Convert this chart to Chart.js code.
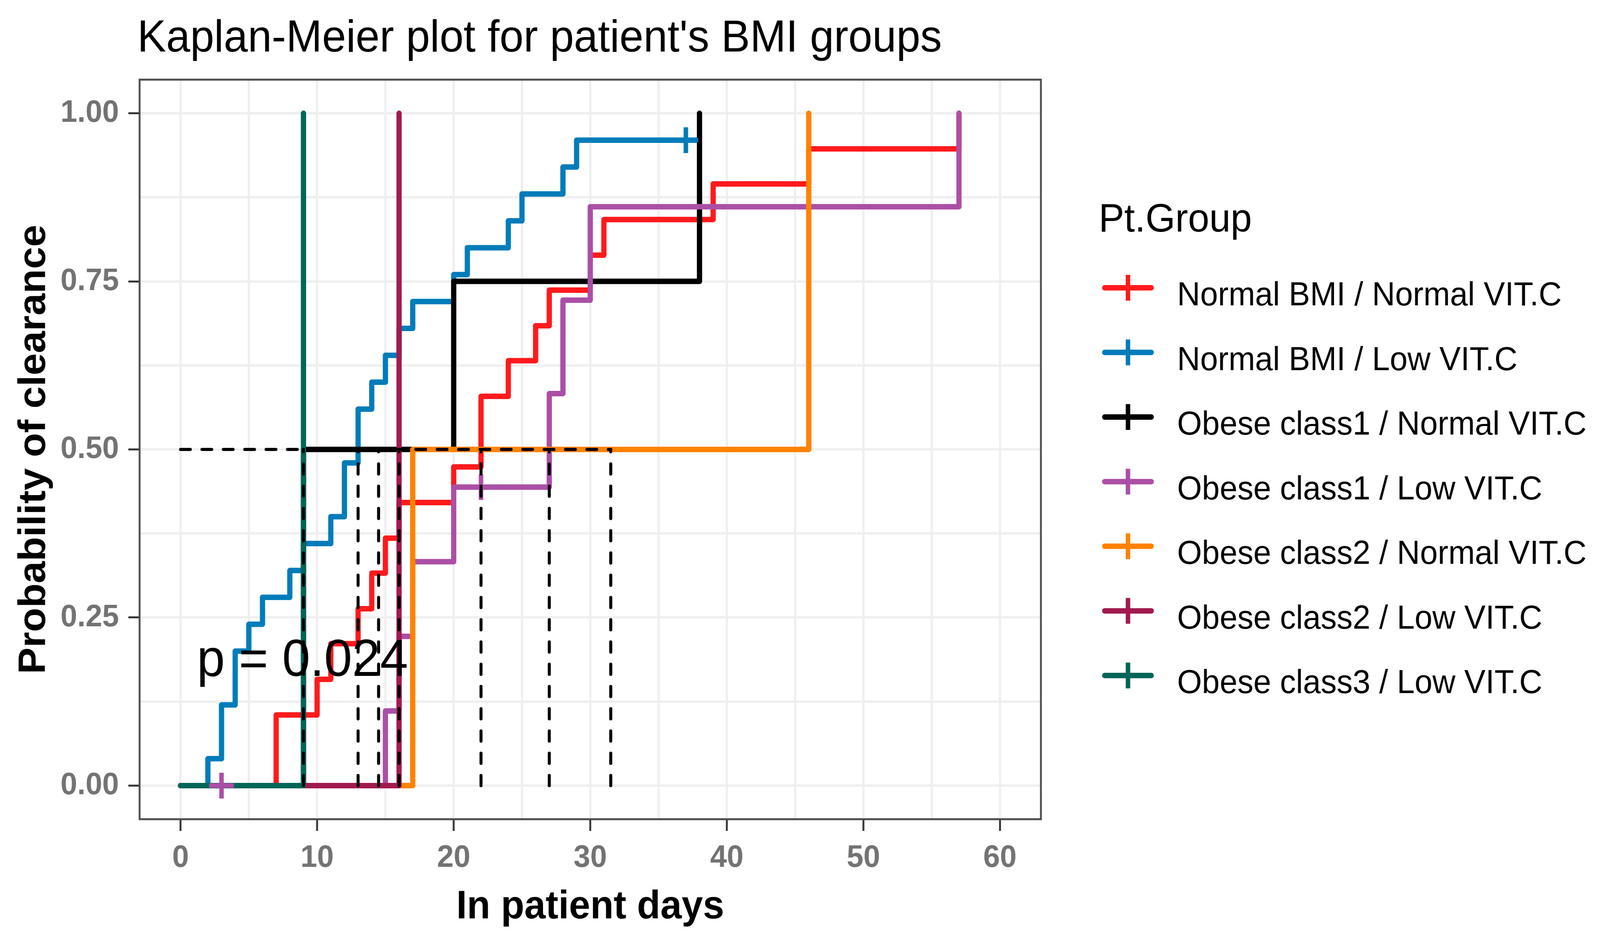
<!DOCTYPE html>
<html>
<head>
<meta charset="utf-8">
<script src="https://cdn.jsdelivr.net/npm/chart.js@4.4.1/dist/chart.umd.min.js"></script>
<style>
  html, body { margin: 0; padding: 0; background: #fff; overflow: hidden; }
  #wrap { width: 4264px; height: 2392px; position: absolute; left: 0; top: 0; transform-origin: 0 0; }
</style>
</head>
<body>
<div id="wrap"><canvas id="km" width="4264" height="2392"></canvas></div>
<script>
/* Kaplan-Meier plot for patient's BMI groups
   Laid out on a 4264x2392 sheet, then fitted to the window. */

const FONT = "'Liberation Sans', Arial, Helvetica, sans-serif";
const SHEET_W = 4264, SHEET_H = 2392;

// ── Groups ──────────────────────────────────────────────────────────────
const groupNames = [
  'Normal BMI / Normal VIT.C',
  'Normal BMI / Low VIT.C',
  'Obese class1 / Normal VIT.C',
  'Obese class1 / Low VIT.C',
  'Obese class2 / Normal VIT.C',
  'Obese class2 / Low VIT.C',
  'Obese class3 / Low VIT.C',
];
const groupColors = ['#ff1a1c', '#007cba', '#000000', '#ab4fa6', '#ff8200', '#a11a50', '#006658'];

// ── Step curves: day of each step and cumulative probability after it ─
const nnDays = [0, 7, 10, 11, 13, 14, 15, 16, 20, 22, 24, 26, 27, 30, 31, 39, 46, 57];
const nnProb = [0, 0.105, 0.158, 0.211, 0.263, 0.316, 0.368, 0.421, 0.474, 0.579, 0.632, 0.684, 0.737, 0.789, 0.842, 0.895, 0.947, 1.0];

const nlDays = [0, 2, 3, 4, 5, 6, 8, 9, 11, 12, 13, 14, 15, 16, 17, 20, 21, 24, 25, 28, 29, 38];
const nlProb = [0, 0.04, 0.12, 0.20, 0.24, 0.28, 0.32, 0.36, 0.40, 0.48, 0.56, 0.60, 0.64, 0.68, 0.72, 0.76, 0.80, 0.84, 0.88, 0.92, 0.96, 0.96];

const o1nDays = [0, 9, 20, 38];
const o1nProb = [0, 0.5, 0.75, 1.0];

const o1lDays = [0, 15, 16, 17, 20, 27, 28, 30, 57];
const o1lProb = [0, 0.111, 0.222, 0.333, 0.444, 0.583, 0.722, 0.861, 1.0];

const o2nDays = [0, 17, 46];
const o2nProb = [0, 0.5, 1.0];

const o2lDays = [0, 16];
const o2lProb = [0, 1.0];

const o3lDays = [0, 9];
const o3lProb = [0, 1.0];

// ── Censored observations ───────────────────────────────────────────────
const nlCensDays  = [37];
const nlCensProb  = [0.96];
const o1lCensDays = [3, 22];
const o1lCensProb = [0, 0.444];

// ── Median lines ────────────────────────────────────────────────────────
const medianDays  = [22, 13, 14.5, 27, 31.5, 16, 9];
const medianLevel = 0.5;

// ── Axes ────────────────────────────────────────────────────────────────
const xTicks      = [0, 10, 20, 30, 40, 50, 60];
const yTicks      = [0, 0.25, 0.5, 0.75, 1];
const yTickLabels = ['0.00', '0.25', '0.50', '0.75', '1.00'];

// ── Texts ───────────────────────────────────────────────────────────────
const titleText   = "Kaplan-Meier plot for patient's BMI groups";
const xTitleText  = 'In patient days';
const yTitleText  = 'Probability of clearance';
const legendTitle = 'Pt.Group';
const pText       = 'p = 0.024';
const pAt         = { x: 1.2, y: 0.163 };

// fit the sheet into whatever window we get
const wrap = document.getElementById('wrap');
wrap.style.transform =
  `scale(${window.innerWidth / SHEET_W}, ${window.innerHeight / SHEET_H})`;

const curves = [
  { days: nnDays,  prob: nnProb,  cd: [],          cp: [] },
  { days: nlDays,  prob: nlProb,  cd: nlCensDays,  cp: nlCensProb },
  { days: o1nDays, prob: o1nProb, cd: [],          cp: [] },
  { days: o1lDays, prob: o1lProb, cd: o1lCensDays, cp: o1lCensProb },
  { days: o2nDays, prob: o2nProb, cd: [],          cp: [] },
  { days: o2lDays, prob: o2lProb, cd: [],          cp: [] },
  { days: o3lDays, prob: o3lProb, cd: [],          cp: [] },
];

const datasets = [];
curves.forEach((c, i) => {
  datasets.push({
    label: groupNames[i],
    data: c.days.map((d, k) => ({ x: d, y: c.prob[k] })),
    borderColor: groupColors[i], borderWidth: 14,
    stepped: true, fill: false, pointRadius: 0,
    borderJoinStyle: 'round', borderCapStyle: 'round',
    order: 2 + curves.length - i,
  });
  if (c.cd.length) {
    datasets.push({
      label: groupNames[i] + ' censored',
      data: c.cd.map((d, k) => ({ x: d, y: c.cp[k] })),
      showLine: false, pointStyle: 'cross', pointRadius: 33, pointHoverRadius: 33,
      pointBorderWidth: 12, pointBorderColor: groupColors[i], pointBackgroundColor: groupColors[i],
      order: 1,
    });
  }
});

const dashStyle = {
  borderColor: '#000', borderWidth: 8, borderDash: [26, 31],
  borderCapStyle: 'round', pointRadius: 0, fill: false, order: 0,
};
datasets.push({ ...dashStyle, label: 'median h',
  data: [{ x: 0, y: medianLevel }, { x: Math.max(...medianDays), y: medianLevel }] });
medianDays.forEach((m, i) => datasets.push({ ...dashStyle, label: 'median ' + i,
  data: [{ x: m, y: 0 }, { x: m, y: medianLevel }] }));

// major ticks plus midpoints for minor grid lines
function withMinor(major) {
  const out = [];
  major.forEach((v, i) => {
    out.push(v);
    if (i < major.length - 1) out.push((v + major[i + 1]) / 2);
  });
  return out;
}
const xAll = withMinor(xTicks);
const yAll = withMinor(yTicks);

const decor = {
  id: 'decor',
  afterDraw(chart) {
    const { ctx, chartArea: a, scales: { x, y } } = chart;
    ctx.save();

    // panel border
    ctx.strokeStyle = '#4d4d4d'; ctx.lineWidth = 5;
    ctx.strokeRect(a.left, a.top, a.right - a.left, a.bottom - a.top);

    // p-value
    ctx.fillStyle = '#000'; ctx.textAlign = 'left'; ctx.textBaseline = 'alphabetic';
    ctx.font = `134px ${FONT}`;
    ctx.fillText(pText, x.getPixelForValue(pAt.x), y.getPixelForValue(pAt.y));

    // title
    ctx.font = `115px ${FONT}`;
    ctx.fillText(titleText, 366, 132);

    // axis titles
    ctx.font = `bold 102px ${FONT}`;
    ctx.textAlign = 'center';
    ctx.fillText(xTitleText, (a.left + a.right) / 2, 2352);
    ctx.save();
    ctx.translate(120, (a.top + a.bottom) / 2);
    ctx.rotate(-Math.PI / 2);
    ctx.fillText(yTitleText, 0, 0);
    ctx.restore();

    // legend
    ctx.textAlign = 'left';
    ctx.font = `102px ${FONT}`;
    ctx.fillText(legendTitle, 2928, 593);
    ctx.font = `85px ${FONT}`;
    groupNames.forEach((name, i) => {
      const cy = 737 + i * 165.5;
      ctx.strokeStyle = groupColors[i];
      ctx.lineWidth = 14; ctx.lineCap = 'round';
      ctx.beginPath(); ctx.moveTo(2944, cy); ctx.lineTo(3068, cy); ctx.stroke();
      ctx.lineWidth = 12; ctx.lineCap = 'butt';
      ctx.beginPath(); ctx.moveTo(3006, cy - 33); ctx.lineTo(3006, cy + 33); ctx.stroke();
      ctx.fillStyle = '#000';
      ctx.fillText(name, 3137, cy + 45);
    });
    ctx.restore();
  }
};

new Chart(document.getElementById('km'), {
  type: 'line',
  data: { datasets },
  plugins: [decor],
  options: {
    responsive: false, animation: false,
    devicePixelRatio: 1,
    layout: { padding: { left: 0, top: 204, right: 1490, bottom: 0 } },
    plugins: { legend: { display: false }, tooltip: { enabled: false }, title: { display: false } },
    scales: {
      x: {
        type: 'linear', min: -3, max: 63,
        afterBuildTicks: s => { s.ticks = xAll.map(v => ({ value: v })); },
        afterFit: s => { s.height = 294; },
        grid: {
          color: '#efefef', lineWidth: 6, drawTicks: true, tickLength: 30, tickWidth: 5,
          tickColor: c => xTicks.includes(c.tick?.value) ? '#333333' : 'rgba(0,0,0,0)',
        },
        border: { display: false },
        ticks: {
          autoSkip: false, maxRotation: 0, padding: 22, color: '#737373',
          font: { family: FONT, size: 80, weight: 'bold' },
          callback: v => xTicks.includes(v) ? String(v) : '',
        },
      },
      y: {
        type: 'linear', min: -0.05, max: 1.05,
        afterBuildTicks: s => { s.ticks = yAll.map(v => ({ value: v })); },
        afterFit: s => { s.width = 372; },
        grid: {
          color: '#efefef', lineWidth: 6, drawTicks: true, tickLength: 30, tickWidth: 5,
          tickColor: c => yTicks.includes(c.tick?.value) ? '#333333' : 'rgba(0,0,0,0)',
        },
        border: { display: false },
        ticks: {
          autoSkip: false, padding: 25, color: '#737373',
          font: { family: FONT, size: 80, weight: 'bold' },
          callback: v => { const k = yTicks.indexOf(v); return k >= 0 ? yTickLabels[k] : ''; },
        },
      },
    },
  },
});
</script>
</body>
</html>
